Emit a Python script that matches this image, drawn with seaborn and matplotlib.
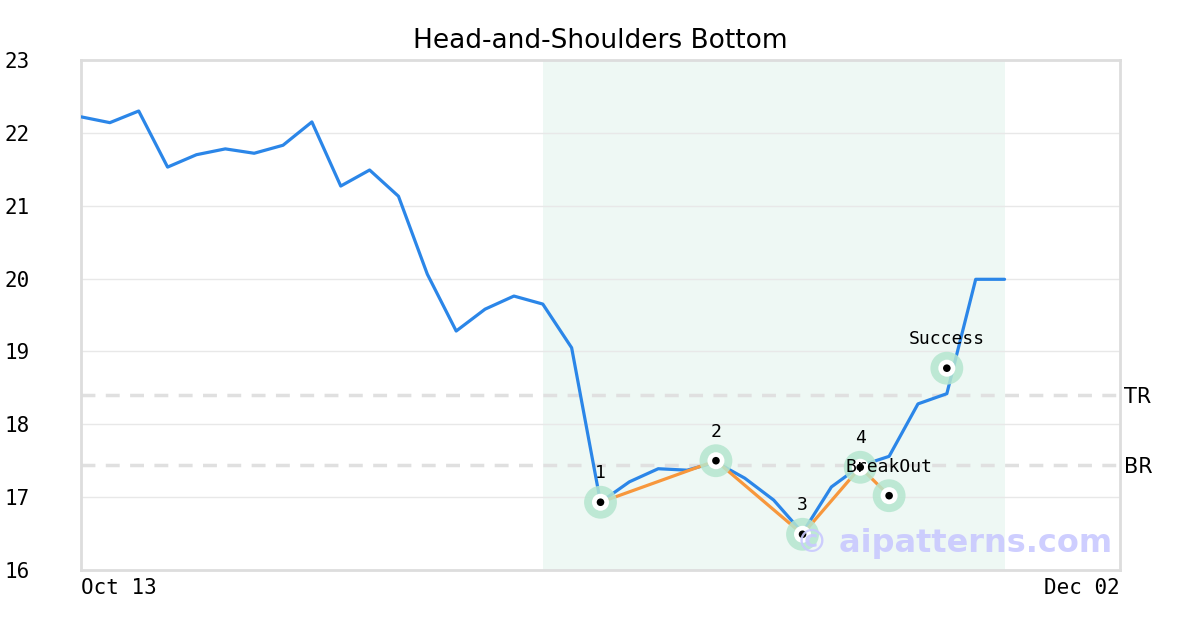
import matplotlib
matplotlib.use("Agg")
import matplotlib.pyplot as plt
import seaborn as sns
import pandas as pd

# ---- data ----
prices = [22.22, 22.14, 22.30, 21.53, 21.70, 21.78, 21.72, 21.83, 22.15, 21.27,
          21.49, 21.13, 20.06, 19.28, 19.58, 19.76, 19.65, 19.05, 16.93, 17.21,
          17.39, 17.37, 17.48, 17.26, 16.96, 16.51, 17.14, 17.43, 17.56, 18.28,
          18.42, 19.99, 19.99]
pattern_idx = [18, 22, 25, 27, 28]
pattern_val = [16.93, 17.50, 16.49, 17.41, 17.02]
pattern_labels = ["1", "2", "3", "4", "BreakOut"]
success_idx = [30]
success_val = [18.77]
success_labels = ["Success"]
tr_level = 18.40
br_level = 17.44
shade_range = [16, 32]
n_slots = 36
xtick_pos = [0, 36]
xtick_labels = ["Oct 13", "Dec 02"]
yticks = [16, 17, 18, 19, 20, 21, 22, 23]
title = "Head-and-Shoulders Bottom"

df = pd.DataFrame({"i": range(len(prices)), "price": prices})
pat = pd.DataFrame({"i": pattern_idx, "v": pattern_val})
suc = pd.DataFrame({"i": success_idx, "v": success_val})

sns.set_style("white")
plt.rcParams.update({"text.color": "black", "xtick.color": "black",
                     "ytick.color": "black", "axes.labelcolor": "black"})
fig = plt.figure(figsize=(12, 6.3), dpi=100)
ax = fig.add_axes([81/1200, 1-570/630, (1120-81)/1200, (570-60)/630])

ax.axvspan(shade_range[0], shade_range[1], color="#eef8f4", zorder=0, lw=0)
for y in yticks[1:-1]:
    ax.axhline(y, color="#e8e8e8", lw=1, zorder=1)
for lvl in (tr_level, br_level):
    ax.axhline(lvl, color="#e0e0e0", lw=2.5, ls=(0, (4, 3)), zorder=1)

sns.lineplot(data=df, x="i", y="price", ax=ax, color="#2b86e8", lw=2.3, zorder=3)
sns.lineplot(data=pat, x="i", y="v", ax=ax, color="#f7973c", lw=2.3, zorder=4, sort=False)

allpts = pd.concat([pat, suc], ignore_index=True)
sns.scatterplot(data=allpts, x="i", y="v", ax=ax, s=560, color="#b5e6cf", alpha=0.85,
                edgecolor="none", zorder=5)
sns.scatterplot(data=allpts, x="i", y="v", ax=ax, s=150, color="white",
                edgecolor="none", zorder=6)
sns.scatterplot(data=allpts, x="i", y="v", ax=ax, s=30, color="black",
                edgecolor="none", zorder=7)

mono = "DejaVu Sans Mono"
for xi, v, lab in zip(pattern_idx + success_idx, pattern_val + success_val,
                      pattern_labels + success_labels):
    ax.annotate(lab, (xi, v), xytext=(0, 21), textcoords="offset points",
                ha="center", va="center", fontsize=13, family=mono, zorder=8,
                color="black")

ax.text(1.004, tr_level - 0.02, "TR", transform=ax.get_yaxis_transform(), ha="left",
        va="center", fontsize=15)
ax.text(1.004, br_level - 0.02, "BR", transform=ax.get_yaxis_transform(), ha="left",
        va="center", fontsize=15)

ax.text(0.992, 0.052, "\u00a9 aipatterns.com", transform=ax.transAxes, ha="right",
        va="center", fontsize=23, fontweight="bold", color="#c9c9ff", alpha=0.9, zorder=9)

ax.set_xlim(0, n_slots)
ax.set_ylim(16, 23)
ax.set_xticks(xtick_pos)
ax.set_xticklabels(xtick_labels, family=mono, fontsize=15)
xl = ax.get_xticklabels()
xl[0].set_horizontalalignment("left")
xl[-1].set_horizontalalignment("right")
ax.set_yticks(yticks)
ax.set_yticklabels([str(y) for y in yticks], fontsize=15, family=mono)
for t in ax.get_yticklabels():
    t.set_horizontalalignment("left")
ax.tick_params(axis="y", length=0, pad=55)
ax.tick_params(axis="x", length=0, pad=6)
ax.set_xlabel("")
ax.set_ylabel("")
for s in ax.spines.values():
    s.set_color("#dddddd")
    s.set_linewidth(2)
ax.set_title(title, fontsize=19, pad=9, color="black")

fig.savefig("out.png", dpi=100)
